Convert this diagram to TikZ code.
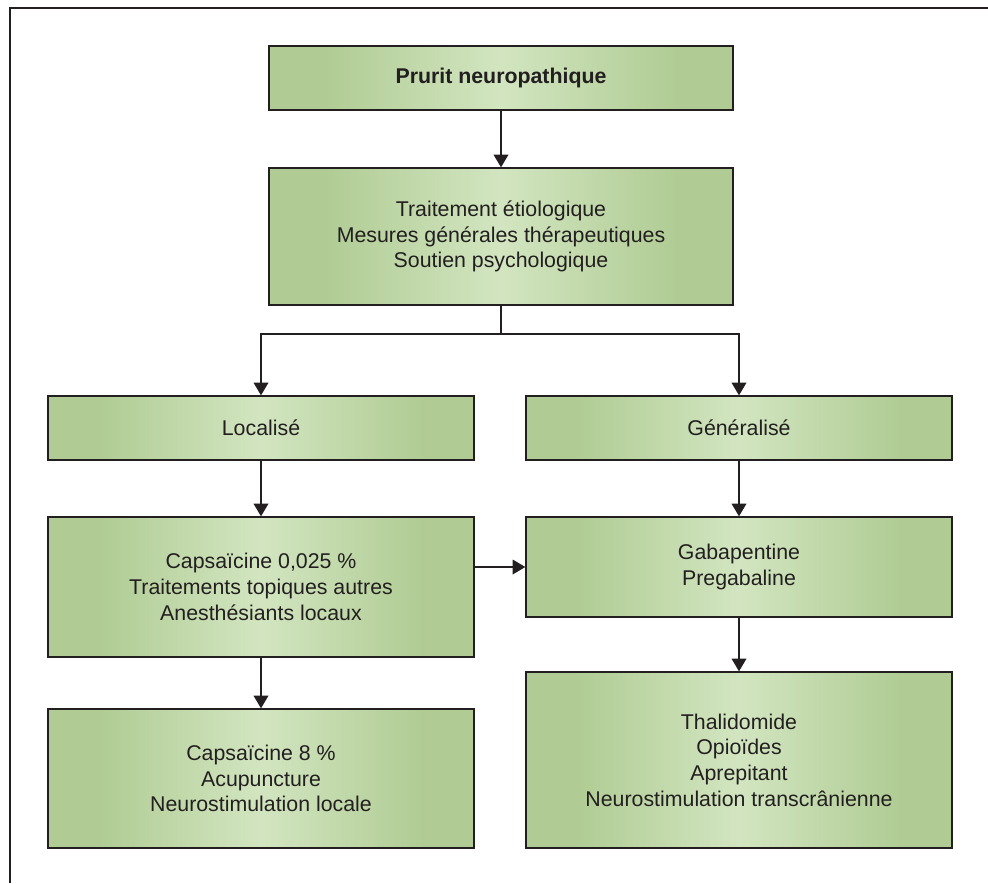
\documentclass[tikz,border=0pt]{standalone}
\usepackage{fontspec}
\setmainfont{Liberation Sans}
\usetikzlibrary{arrows.meta}
\definecolor{gdark}{RGB}{176,204,148}
\definecolor{glight}{RGB}{210,229,192}
\definecolor{ink}{RGB}{35,31,32}
\pgfdeclarehorizontalshading{boxshade}{100bp}{color(0bp)=(gdark); color(31bp)=(gdark); color(50bp)=(glight); color(69bp)=(gdark); color(100bp)=(gdark)}
\tikzset{
  box/.style={draw=ink, line width=1pt, shading=boxshade, align=center, inner sep=0pt,
    text=ink, font=\fontsize{16}{19.3}\selectfont},
  wide/.style={box, minimum width=348pt},
  half/.style={box, minimum width=319.5pt},
  arr/.style={draw=ink, line width=1pt, -{Triangle[length=9.5pt,width=11pt]}}
}
\begin{document}
\begin{tikzpicture}[x=0.75pt,y=-0.75pt]
\useasboundingbox (0,0) rectangle (988,883);
\draw [ink, line width=1.3pt] (10,883) -- (10,8) -- (988,8);
\node [wide, minimum height=48pt, font=\fontsize{16}{19.3}\selectfont\bfseries] (prurit) at (501,78) {Prurit neuropathique};
\node [wide, minimum height=102.75pt] (trait) at (501,236.5) {Traitement étiologique\\Mesures générales thérapeutiques\\Soutien psychologique};
\node [half, minimum height=48pt] (local) at (261,428) {Localisé};
\node [half, minimum height=48pt] (gener) at (739,428) {Généralisé};
\node [half, minimum height=105pt] (capsa) at (261,587) {Capsaïcine 0,025 \%\\Traitements topiques autres\\Anesthésiants locaux};
\node [half, minimum height=75pt] (gaba) at (739,567) {Gabapentine\\Pregabaline};
\node [half, minimum height=104.25pt] (capsb) at (261,778.5) {Capsaïcine 8 \%\\Acupuncture\\Neurostimulation locale};
\node [half, minimum height=132pt] (thal) at (739,760) {Thalidomide\\Opioïdes\\Aprepitant\\Neurostimulation transcrânienne};
\coordinate (split) at (501,334);
\draw [arr] (prurit) -- (trait);
\draw [draw=ink, line width=1pt] (trait.south) -- (split);
\draw [arr] (split) -| (local.north);
\draw [arr] (split) -| (gener.north);
\draw [arr] (local) -- (capsa);
\draw [arr] (gener) -- (gaba);
\draw [arr] (capsa.east |- gaba.west) -- (gaba.west);
\draw [arr] (capsa) -- (capsb);
\draw [arr] (gaba) -- (thal);
\end{tikzpicture}
\end{document}
